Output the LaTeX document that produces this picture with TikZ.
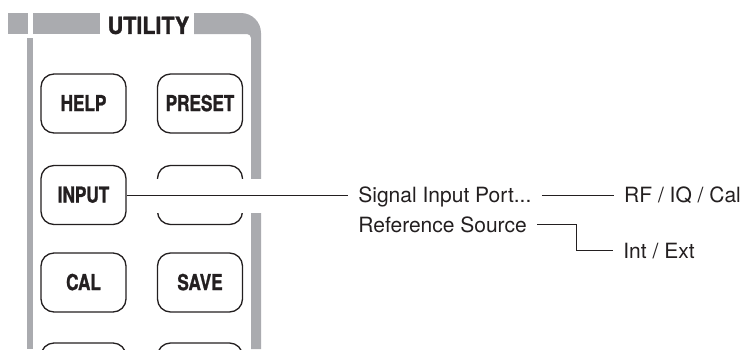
\documentclass[tikz,border=0pt]{standalone}
\usepackage{fontspec}
\setmainfont{TeX Gyre Heros}
\newfontfamily\keyfont[FakeStretch=0.78, BoldFeatures={FakeBold=1.2}]{TeX Gyre Heros}
\newfontfamily\panelfont[FakeStretch=0.91, BoldFeatures={FakeBold=1.4}]{TeX Gyre Heros}
\usepackage{tikz}
\usetikzlibrary{positioning}
\definecolor{panelgray}{RGB}{170,171,175}
\definecolor{ink}{RGB}{35,31,32}

\begin{document}
\begin{tikzpicture}[x=0.5pt, y=-0.5pt,
  key/.style={draw=ink, line width=0.65pt, rounded corners=6.5pt,
    minimum width=42.5pt, minimum height=29.5pt, inner sep=0pt,
    text height=7.6pt, text depth=0pt, text=ink,
    font=\keyfont\bfseries\fontsize{11}{13}\selectfont},
  menu/.style={inner xsep=5pt, inner ysep=0pt, text height=7.5pt,
    text depth=0pt, text=ink, font=\fontsize{10.5}{12}\selectfont},
  link/.style={draw=ink, line width=0.5pt}
]
\useasboundingbox (0,0) rectangle (740,349);
\clip (0,0) rectangle (740,349);

\fill[panelgray] (8,13) rectangle (28,34);
\fill[panelgray] (33,13) rectangle (100,34);
\fill[panelgray] (194,13) -- (241,13) arc[start angle=90, end angle=0, radius=10pt]
  -- (261,349) -- (251,349) -- (251,38) arc[start angle=0, end angle=90, radius=2pt]
  -- (194,34) -- cycle;
\fill[panelgray] (27,38) rectangle (33,349);
\node[inner sep=0pt, text height=8.4pt, text depth=0pt, text=ink,
  font=\panelfont\bfseries\fontsize{11.8}{14}\selectfont] (title) at (148.5,25.5) {UTILITY};

\node[key] (help) at (83.5,103.5) {HELP};
\node[key] (preset) at (200,103.5) {PRESET};
\node[key] (input) at (83.5,195) {INPUT};
\node[key] (blank) at (200,195) {};
\node[key] (cal) at (83.5,282.5) {CAL};
\node[key] (save) at (200,282.5) {SAVE};
\node[key] (lowleft) at (83.5,372.5) {};
\node[key] (lowright) at (200,372.5) {};
\fill[white] (145,179) rectangle (266,213);

\node[menu, anchor=west] (sig) at (348,195) {Signal Input Port...};
\node[menu, right=36pt of sig] (rf) {RF / IQ / Cal};
\node[menu, anchor=west] (ref) at (348,224.5) {Reference Source};
\node[menu, anchor=west] (ext) at (613,250.5) {Int / Ext};

\draw[link] (input) -- (sig);
\draw[link] (sig) -- (rf);
\draw[link] (ref.east) -- ++(39,0) |- (ext.west);
\end{tikzpicture}
\end{document}
